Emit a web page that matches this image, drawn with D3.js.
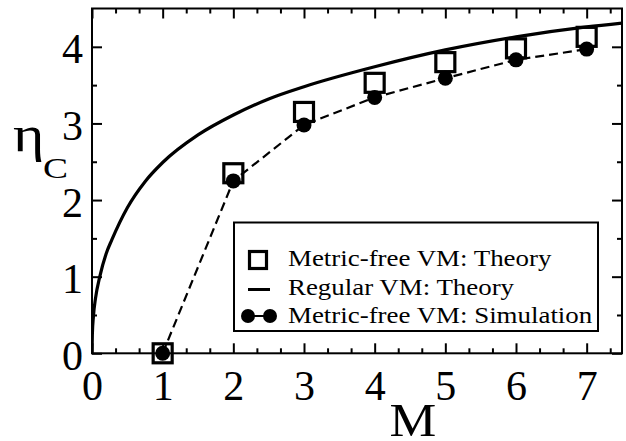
<!DOCTYPE html>
<html>
<head>
<meta charset="utf-8">
<script src="https://cdn.jsdelivr.net/npm/d3@7"></script>
<style>
  body { margin: 0; background: #fff; }
  text { font-family: "Liberation Serif", "Times New Roman", serif; fill: #000; }
</style>
</head>
<body>
<div id="chart"></div>
<script>
// values
var theoryM   = [0, 0.005, 0.02, 0.05, 0.11, 0.2, 0.28, 0.5, 0.75, 1, 1.5, 2, 2.5, 3, 4, 5, 6, 7, 7.5];
var theoryEta = [0, 0.25, 0.48, 0.72, 1.0, 1.3, 1.48, 1.9, 2.24, 2.49, 2.85, 3.11, 3.32, 3.48, 3.74, 3.96, 4.13, 4.26, 4.31];
var pointM     = [1, 2, 3, 4, 5, 6, 7];
var squareEta  = [0, 2.35, 3.15, 3.53, 3.80, 3.98, 4.13];   // Metric-free VM: Theory
var circleEta  = [0, 2.25, 2.98, 3.34, 3.59, 3.83, 3.97];   // Simulation (dashed line through them)
var xTicks = [0, 1, 2, 3, 4, 5, 6, 7];
var yTicks = [0, 1, 2, 3, 4];
var legendLabels = ["Metric-free VM: Theory", "Regular VM: Theory", "Metric-free VM: Simulation"];

var W = 626, H = 441;
var margin = {top: 8.5, right: 4, bottom: 87.7, left: 92};
var w = W - margin.left - margin.right, h = H - margin.top - margin.bottom;

var svg = d3.select("#chart").append("svg")
    .attr("width", W).attr("height", H);
var g = svg.append("g").attr("transform", "translate(" + margin.left + "," + margin.top + ")");

var x = d3.scaleLinear().domain([0, 7.5]).range([0, w]);
var y = d3.scaleLinear().domain([0, 4.5]).range([h, 0]);

var xMinor = d3.range(0, 7.5, 1 / 3).filter(function (d) { return Math.abs(d - Math.round(d)) > 0.01; });
var yMinor = d3.range(0.5, 4.5, 1);

// ticks, all pointing inward
function tickAxis(axis, vals, size, el) {
    el.call(axis.tickValues(vals).tickSizeInner(-size).tickSizeOuter(0));
    el.select(".domain").remove();
    el.selectAll(".tick line").attr("stroke", "#000").attr("stroke-width", 2);
    return el;
}
// minor ones first
tickAxis(d3.axisBottom(x).tickFormat(""), xMinor, 5, g.append("g").attr("transform", "translate(0," + h + ")"));
tickAxis(d3.axisTop(x).tickFormat(""), xMinor, 5, g.append("g"));
tickAxis(d3.axisLeft(y).tickFormat(""), yMinor, 5, g.append("g"));
tickAxis(d3.axisRight(y).tickFormat(""), yMinor, 5, g.append("g").attr("transform", "translate(" + w + ",0)"));

var xb = tickAxis(d3.axisBottom(x).tickFormat(d3.format("d")), xTicks, 10, g.append("g").attr("transform", "translate(0," + h + ")"));
xb.selectAll("text").attr("y", 47).attr("dy", null)
    .style("font-family", "'Liberation Serif', serif").style("font-size", "42px");
tickAxis(d3.axisTop(x).tickFormat(""), xTicks, 10, g.append("g"));
var yl = tickAxis(d3.axisLeft(y).tickFormat(d3.format("d")), yTicks, 10, g.append("g"));
yl.selectAll("text").attr("x", -9).attr("dy", "0.38em")
    .style("font-family", "'Liberation Serif', serif").style("font-size", "42px");
tickAxis(d3.axisRight(y).tickFormat(""), yTicks, 10, g.append("g").attr("transform", "translate(" + w + ",0)"));

// clip lines to the frame
g.append("clipPath").attr("id", "clip").append("rect").attr("width", w).attr("height", h);

var line = d3.line()
    .x(function (d) { return x(d[0]); })
    .y(function (d) { return y(d[1]); });

g.append("path")
    .datum(d3.zip(theoryM, theoryEta))
    .attr("clip-path", "url(#clip)")
    .attr("fill", "none").attr("stroke", "#000").attr("stroke-width", 3.2)
    .attr("d", line.curve(d3.curveMonotoneX));

g.append("path")
    .datum(d3.zip(pointM, circleEta))
    .attr("fill", "none").attr("stroke", "#000").attr("stroke-width", 2.2)
    .attr("stroke-dasharray", "9,5")
    .attr("d", d3.line().x(function (d) { return x(d[0]); }).y(function (d) { return y(d[1]); }));

var sq = 19;
g.selectAll(".sq").data(d3.zip(pointM, squareEta)).enter().append("rect")
    .attr("class", "sq")
    .attr("x", function (d) { return x(d[0]) - sq / 2; })
    .attr("y", function (d) { return y(d[1]) - sq / 2; })
    .attr("width", sq).attr("height", sq)
    .attr("fill", "none").attr("stroke", "#000").attr("stroke-width", 3.2);

g.selectAll(".dot").data(d3.zip(pointM, circleEta)).enter().append("circle")
    .attr("class", "dot")
    .attr("cx", function (d) { return x(d[0]); })
    .attr("cy", function (d) { return y(d[1]); })
    .attr("r", 7.5).attr("fill", "#000");

// frame
g.append("rect").attr("width", w).attr("height", h)
    .attr("fill", "none").attr("stroke", "#000").attr("stroke-width", 2);

// legend
var leg = svg.append("g");
leg.append("rect").attr("x", 234).attr("y", 222.5).attr("width", 364).attr("height", 108.5)
    .attr("fill", "#fff").attr("stroke", "#000").attr("stroke-width", 2);
leg.append("rect").attr("x", 249.5).attr("y", 251.5).attr("width", 17).attr("height", 17)
    .attr("fill", "none").attr("stroke", "#000").attr("stroke-width", 3.2);
leg.append("line").attr("x1", 248).attr("x2", 270).attr("y1", 289.5).attr("y2", 289.5)
    .attr("stroke", "#000").attr("stroke-width", 3);
leg.append("line").attr("x1", 248).attr("x2", 270).attr("y1", 316).attr("y2", 316)
    .attr("stroke", "#000").attr("stroke-width", 2);
leg.selectAll(".ldot").data([248, 270]).enter().append("circle")
    .attr("cx", function (d) { return d; }).attr("cy", 316).attr("r", 7).attr("fill", "#000");
leg.selectAll(".ltext").data(legendLabels).enter().append("text")
    .attr("transform", function (d, i) { return "translate(288," + [266, 295, 323][i] + ") scale(1.17,1)"; })
    .style("font-size", "23px")
    .text(function (d) { return d; });

// axis titles
svg.append("text").attr("transform", "translate(413,436) scale(1.12,1)")
    .attr("text-anchor", "middle").style("font-size", "47px").text("M");
svg.append("text").attr("transform", "translate(13,151) scale(1.2,1)")
    .style("font-size", "50px").text("η");
svg.append("text").attr("transform", "translate(43,178) scale(1.25,1)")
    .style("font-size", "30px").text("C");
</script>
</body>
</html>
